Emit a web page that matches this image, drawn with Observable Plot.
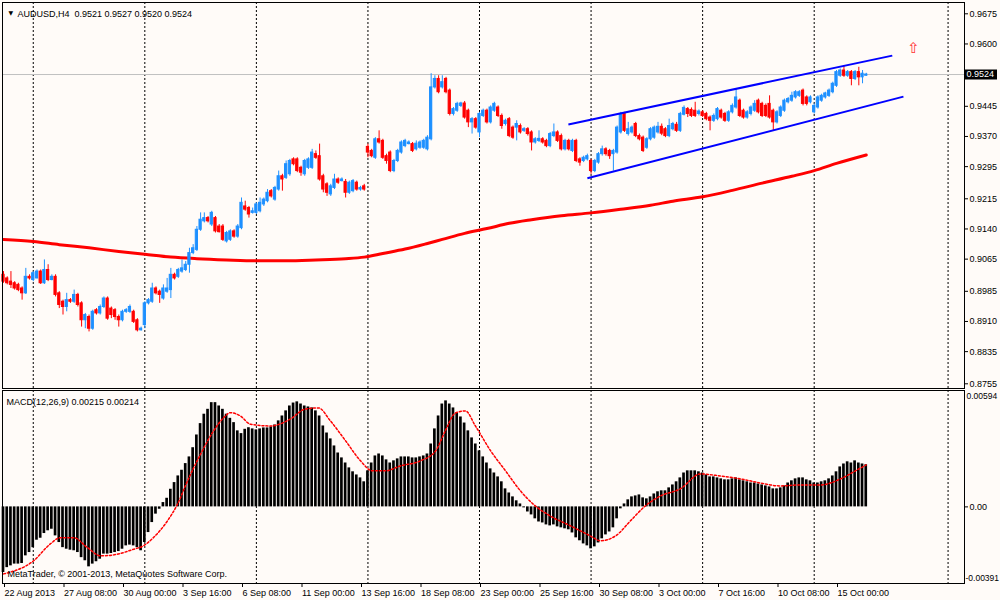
<!DOCTYPE html>
<html><head><meta charset="utf-8">
<script src="https://cdn.jsdelivr.net/npm/d3@7"></script>
<script src="https://cdn.jsdelivr.net/npm/@observablehq/plot@0.6"></script>
<style>
html,body{margin:0;padding:0;background:#FFFBF8;}
#chart{position:relative;width:1000px;height:600px;overflow:hidden;background:#FFFBF8;}
#chart svg{position:absolute;left:0;}
</style></head><body><div id="chart"></div>
<script>
// ---- AUDUSD H4 candles (bar index 0..232) ----
const open = [
0.9026,0.9017,0.9009,0.9005,0.9001,0.8992,0.8980,0.9021,0.9013,0.9017,
0.9034,0.9005,0.9038,0.9013,0.9021,0.8980,0.8959,0.8946,0.8963,0.8959,
0.8976,0.8955,0.8913,0.8921,0.8892,0.8938,0.8930,0.8946,0.8967,0.8942,
0.8938,0.8921,0.8913,0.8934,0.8934,0.8934,0.8913,0.8888,0.8901,0.8955,
0.8959,0.8992,0.8984,0.8967,0.8984,0.8988,0.9026,0.9021,0.9034,0.9038,
0.9051,0.9080,0.9088,0.9138,0.9159,0.9167,0.9151,0.9167,0.9146,0.9146,
0.9109,0.9113,0.9134,0.9121,0.9142,0.9196,0.9192,0.9180,0.9180,0.9184,
0.9201,0.9209,0.9234,0.9213,0.9238,0.9271,0.9267,0.9276,0.9313,0.9313,
0.9292,0.9276,0.9292,0.9292,0.9326,0.9321,0.9271,0.9251,0.9226,0.9242,
0.9263,0.9259,0.9257,0.9230,0.9234,0.9255,0.9238,0.9246,0.9344,0.9334,
0.9317,0.9363,0.9359,0.9321,0.9330,0.9284,0.9309,0.9330,0.9346,0.9351,
0.9351,0.9338,0.9342,0.9342,0.9338,0.9363,0.9492,0.9513,0.9492,0.9513,
0.9484,0.9426,0.9434,0.9446,0.9452,0.9434,0.9405,0.9413,0.9380,0.9421,
0.9434,0.9405,0.9434,0.9442,0.9421,0.9401,0.9413,0.9392,0.9392,0.9396,
0.9384,0.9388,0.9380,0.9355,0.9359,0.9363,0.9359,0.9346,0.9371,0.9380,
0.9371,0.9338,0.9359,0.9334,0.9359,0.9313,0.9309,0.9313,0.9309,0.9284,
0.9305,0.9326,0.9338,0.9334,0.9326,0.9330,0.9380,0.9426,0.9376,0.9380,
0.9401,0.9371,0.9367,0.9342,0.9363,0.9367,0.9380,0.9394,0.9388,0.9371,
0.9388,0.9399,0.9384,0.9424,0.9438,0.9436,0.9434,0.9426,0.9430,0.9426,
0.9417,0.9409,0.9413,0.9434,0.9426,0.9409,0.9430,0.9442,0.9459,0.9434,
0.9417,0.9426,0.9434,0.9459,0.9451,0.9446,0.9451,0.9434,0.9405,0.9421,
0.9434,0.9455,0.9459,0.9467,0.9471,0.9484,0.9467,0.9455,0.9430,0.9442,
0.9459,0.9467,0.9471,0.9480,0.9496,0.9521,0.9534,0.9521,0.9530,0.9513,
0.9530,0.9517,0.9521];
const high = [
0.9034,0.9021,0.9034,0.9009,0.9005,0.8996,0.9042,0.9026,0.9034,0.9038,
0.9038,0.9063,0.9051,0.9026,0.9026,0.8984,0.8963,0.8980,0.8967,0.8988,
0.8980,0.8959,0.8930,0.8926,0.8938,0.8942,0.8951,0.8971,0.8971,0.8946,
0.8942,0.8926,0.8938,0.8942,0.8951,0.8938,0.8917,0.8896,0.8959,0.8967,
0.9005,0.8996,0.8988,0.9001,0.9017,0.9042,0.9030,0.9042,0.9063,0.9059,
0.9092,0.9101,0.9146,0.9180,0.9180,0.9171,0.9184,0.9171,0.9151,0.9151,
0.9134,0.9138,0.9138,0.9151,0.9217,0.9209,0.9196,0.9192,0.9205,0.9217,
0.9217,0.9238,0.9238,0.9246,0.9284,0.9276,0.9309,0.9313,0.9317,0.9317,
0.9296,0.9313,0.9317,0.9338,0.9334,0.9351,0.9276,0.9255,0.9251,0.9276,
0.9267,0.9267,0.9263,0.9259,0.9263,0.9259,0.9246,0.9251,0.9351,0.9338,
0.9367,0.9384,0.9363,0.9326,0.9334,0.9313,0.9338,0.9359,0.9363,0.9359,
0.9355,0.9359,0.9359,0.9363,0.9372,0.9526,0.9521,0.9521,0.9521,0.9517,
0.9488,0.9442,0.9455,0.9455,0.9457,0.9438,0.9417,0.9417,0.9430,0.9438,
0.9438,0.9446,0.9455,0.9446,0.9426,0.9413,0.9417,0.9396,0.9409,0.9401,
0.9392,0.9392,0.9384,0.9367,0.9384,0.9367,0.9363,0.9380,0.9401,0.9384,
0.9376,0.9363,0.9363,0.9363,0.9363,0.9317,0.9321,0.9326,0.9313,0.9313,
0.9330,0.9346,0.9342,0.9338,0.9338,0.9396,0.9430,0.9430,0.9405,0.9396,
0.9405,0.9376,0.9371,0.9367,0.9392,0.9396,0.9405,0.9401,0.9392,0.9413,
0.9405,0.9405,0.9430,0.9446,0.9442,0.9441,0.9455,0.9436,0.9434,0.9430,
0.9421,0.9426,0.9442,0.9438,0.9430,0.9434,0.9451,0.9488,0.9463,0.9438,
0.9434,0.9446,0.9459,0.9463,0.9455,0.9451,0.9471,0.9438,0.9434,0.9446,
0.9463,0.9467,0.9480,0.9484,0.9484,0.9488,0.9471,0.9471,0.9451,0.9471,
0.9475,0.9480,0.9488,0.9505,0.9534,0.9538,0.9546,0.9534,0.9534,0.9534,
0.9542,0.9534,0.9527];
const low = [
0.9005,0.9001,0.8992,0.8988,0.8984,0.8963,0.8977,0.9013,0.9009,0.9016,
0.9002,0.9002,0.9009,0.9011,0.8971,0.8942,0.8926,0.8934,0.8955,0.8955,
0.8946,0.8896,0.8892,0.8884,0.8888,0.8926,0.8926,0.8942,0.8913,0.8917,
0.8913,0.8896,0.8909,0.8930,0.8930,0.8905,0.8884,0.8886,0.8892,0.8951,
0.8955,0.8976,0.8955,0.8963,0.8980,0.8967,0.9013,0.9017,0.9030,0.9034,
0.9030,0.9076,0.9084,0.9134,0.9155,0.9155,0.9146,0.9130,0.9130,0.9109,
0.9105,0.9109,0.9117,0.9117,0.9138,0.9184,0.9167,0.9177,0.9176,0.9180,
0.9196,0.9205,0.9217,0.9209,0.9234,0.9234,0.9263,0.9271,0.9297,0.9280,
0.9271,0.9271,0.9288,0.9288,0.9313,0.9259,0.9230,0.9221,0.9221,0.9238,
0.9251,0.9257,0.9217,0.9226,0.9230,0.9234,0.9234,0.9234,0.9317,0.9317,
0.9313,0.9351,0.9313,0.9301,0.9280,0.9280,0.9305,0.9326,0.9342,0.9349,
0.9330,0.9334,0.9338,0.9338,0.9334,0.9359,0.9488,0.9476,0.9488,0.9476,
0.9421,0.9421,0.9430,0.9442,0.9413,0.9392,0.9376,0.9388,0.9367,0.9417,
0.9401,0.9401,0.9430,0.9417,0.9388,0.9396,0.9367,0.9363,0.9359,0.9376,
0.9380,0.9371,0.9334,0.9351,0.9355,0.9351,0.9342,0.9342,0.9367,0.9355,
0.9334,0.9334,0.9334,0.9330,0.9305,0.9296,0.9305,0.9309,0.9276,0.9280,
0.9301,0.9321,0.9321,0.9313,0.9284,0.9326,0.9376,0.9380,0.9371,0.9376,
0.9367,0.9359,0.9330,0.9338,0.9359,0.9363,0.9376,0.9372,0.9367,0.9367,
0.9384,0.9380,0.9380,0.9421,0.9417,0.9417,0.9417,0.9421,0.9417,0.9409,
0.9384,0.9405,0.9409,0.9413,0.9405,0.9405,0.9426,0.9438,0.9417,0.9413,
0.9413,0.9421,0.9430,0.9426,0.9417,0.9417,0.9413,0.9384,0.9401,0.9417,
0.9430,0.9451,0.9455,0.9463,0.9467,0.9446,0.9446,0.9451,0.9426,0.9438,
0.9455,0.9463,0.9467,0.9476,0.9492,0.9517,0.9517,0.9517,0.9496,0.9509,
0.9496,0.9501,0.9520];
const close = [
0.9009,0.9005,0.9001,0.8992,0.8988,0.8980,0.9021,0.9017,0.9030,0.9034,
0.9005,0.9038,0.9013,0.9021,0.8976,0.8951,0.8946,0.8963,0.8959,0.8976,
0.8951,0.8913,0.8926,0.8892,0.8934,0.8930,0.8946,0.8967,0.8917,0.8926,
0.8921,0.8913,0.8934,0.8938,0.8946,0.8909,0.8888,0.8892,0.8955,0.8963,
0.8992,0.8980,0.8976,0.8992,0.8992,0.9026,0.9017,0.9038,0.9042,0.9051,
0.9080,0.9092,0.9138,0.9163,0.9167,0.9159,0.9180,0.9134,0.9132,0.9113,
0.9130,0.9134,0.9121,0.9146,0.9205,0.9188,0.9176,0.9184,0.9201,0.9205,
0.9213,0.9230,0.9221,0.9242,0.9271,0.9263,0.9301,0.9309,0.9301,0.9284,
0.9280,0.9309,0.9313,0.9330,0.9317,0.9263,0.9238,0.9230,0.9246,0.9263,
0.9255,0.9263,0.9230,0.9255,0.9259,0.9238,0.9242,0.9238,0.9330,0.9321,
0.9363,0.9355,0.9317,0.9309,0.9284,0.9309,0.9334,0.9355,0.9359,0.9355,
0.9334,0.9352,0.9355,0.9359,0.9367,0.9492,0.9513,0.9480,0.9505,0.9480,
0.9426,0.9438,0.9451,0.9452,0.9417,0.9405,0.9413,0.9392,0.9426,0.9434,
0.9405,0.9442,0.9451,0.9421,0.9396,0.9409,0.9371,0.9367,0.9401,0.9380,
0.9388,0.9376,0.9355,0.9363,0.9364,0.9355,0.9346,0.9376,0.9380,0.9359,
0.9338,0.9359,0.9338,0.9359,0.9309,0.9305,0.9317,0.9321,0.9284,0.9309,
0.9326,0.9338,0.9326,0.9321,0.9334,0.9392,0.9426,0.9384,0.9388,0.9392,
0.9371,0.9363,0.9334,0.9363,0.9388,0.9392,0.9394,0.9377,0.9371,0.9396,
0.9401,0.9384,0.9426,0.9441,0.9426,0.9421,0.9421,0.9432,0.9421,0.9413,
0.9409,0.9421,0.9438,0.9417,0.9409,0.9430,0.9446,0.9467,0.9421,0.9417,
0.9430,0.9442,0.9451,0.9430,0.9421,0.9421,0.9417,0.9405,0.9430,0.9442,
0.9459,0.9463,0.9471,0.9480,0.9480,0.9451,0.9451,0.9467,0.9446,0.9467,
0.9471,0.9477,0.9484,0.9501,0.9530,0.9534,0.9521,0.9530,0.9513,0.9530,
0.9517,0.9526,0.9524];

// ---- moving average (red thick line), read at selected bars ----
const maBars = [0,8,15,23,31,38,45,52,60,68,76,84,92,97,102,108,114,118,124,130,136,142,150,158,166,174,180,188,196,204,212,218,224,232];
const maValues = [0.9114,0.9109,0.9101,0.9093,0.9084,0.9077,0.9070,0.9066,0.9063,0.9061,0.9061,0.9063,0.9066,0.9070,0.9079,0.9090,0.9104,0.9114,0.9129,0.9141,0.9154,0.9163,0.9173,0.9180,0.9189,0.9199,0.9209,0.9220,0.9236,0.9254,0.9271,0.9285,0.9303,0.9324];

// ---- trend channel lines ----
const channelStartBar = [151.9, 157.0];
const channelStartPrice = [0.9400, 0.9266];
const channelEndBar = [239.0, 242.0];
const channelEndPrice = [0.9571, 0.9469];

// ---- arrow object ----
const arrowBar = [244.7];
const arrowPrice = [0.9590];

// ---- MACD(12,26,9) main histogram ----
const macd = [
-0.00335,-0.00310,-0.00301,-0.00292,-0.00292,-0.00289,-0.00250,-0.00233,-0.00208,-0.00170,
-0.00160,-0.00136,-0.00122,-0.00114,-0.00148,-0.00182,-0.00208,-0.00216,-0.00221,-0.00224,
-0.00233,-0.00259,-0.00275,-0.00306,-0.00292,-0.00280,-0.00267,-0.00241,-0.00241,-0.00238,
-0.00233,-0.00228,-0.00216,-0.00199,-0.00195,-0.00199,-0.00208,-0.00224,-0.00182,-0.00131,
-0.00080,-0.00037,-0.00012,0.00022,0.00044,0.00090,0.00124,0.00158,0.00187,0.00221,
0.00255,0.00302,0.00367,0.00425,0.00473,0.00498,0.00532,0.00532,0.00515,0.00498,
0.00473,0.00452,0.00430,0.00388,0.00374,0.00396,0.00404,0.00398,0.00393,0.00398,
0.00403,0.00403,0.00408,0.00418,0.00439,0.00464,0.00490,0.00515,0.00530,0.00536,
0.00525,0.00515,0.00510,0.00505,0.00490,0.00464,0.00413,0.00377,0.00347,0.00311,
0.00275,0.00250,0.00224,0.00199,0.00179,0.00163,0.00148,0.00128,0.00184,0.00224,
0.00260,0.00270,0.00260,0.00240,0.00224,0.00235,0.00245,0.00255,0.00255,0.00255,
0.00250,0.00250,0.00255,0.00260,0.00270,0.00321,0.00398,0.00464,0.00525,0.00541,
0.00525,0.00505,0.00479,0.00459,0.00428,0.00388,0.00352,0.00321,0.00286,0.00255,
0.00224,0.00194,0.00173,0.00153,0.00128,0.00092,0.00071,0.00051,0.00031,0.00015,
-0.00005,-0.00026,-0.00041,-0.00061,-0.00077,-0.00082,-0.00092,-0.00097,-0.00092,-0.00102,
-0.00107,-0.00112,-0.00117,-0.00133,-0.00158,-0.00173,-0.00189,-0.00199,-0.00214,-0.00204,
-0.00184,-0.00163,-0.00143,-0.00128,-0.00107,-0.00061,-0.00010,0.00015,0.00036,0.00051,
0.00056,0.00061,0.00046,0.00041,0.00051,0.00066,0.00077,0.00082,0.00082,0.00097,
0.00112,0.00128,0.00148,0.00173,0.00184,0.00184,0.00184,0.00179,0.00173,0.00163,
0.00153,0.00153,0.00148,0.00143,0.00138,0.00138,0.00143,0.00148,0.00138,0.00133,
0.00128,0.00122,0.00122,0.00117,0.00112,0.00107,0.00102,0.00092,0.00092,0.00097,
0.00107,0.00122,0.00133,0.00143,0.00148,0.00148,0.00138,0.00133,0.00122,0.00122,
0.00128,0.00133,0.00143,0.00158,0.00179,0.00204,0.00219,0.00230,0.00224,0.00235,
0.00224,0.00219,0.00215];

// ---- MACD signal line (dotted red), read at selected bars ----
const sigBars = [0,8.1,12.6,15.3,18.8,22.6,26.1,30.7,35,37.6,40.3,44.1,46.8,49.5,53,56.5,59.2,61,63.7,66.4,71.8,77.2,81.2,84.7,87.9,92,96,99.2,102.7,106.7,112.1,116.2,118.8,121.5,124.2,126.9,131,135,139,143,147,152.5,157.8,160.5,164.6,168.6,172.6,176.7,182,187.4,192.8,198.2,203.5,208.9,214.3,219.7,225.1,229.1,232];
const sigValues = [-0.00342,-0.00275,-0.00189,-0.00157,-0.00157,-0.00208,-0.00250,-0.00241,-0.00216,-0.00199,-0.00157,-0.00071,0.00014,0.00133,0.00269,0.00388,0.00455,0.00481,0.00464,0.00422,0.00413,0.00449,0.00500,0.00505,0.00439,0.00337,0.00235,0.00184,0.00184,0.00209,0.00235,0.00286,0.00388,0.00479,0.00490,0.00413,0.00286,0.00184,0.00082,0.00005,-0.00046,-0.00097,-0.00148,-0.00173,-0.00148,-0.00071,0.00005,0.00056,0.00092,0.00168,0.00158,0.00143,0.00122,0.00107,0.00112,0.00112,0.00143,0.00184,0.00214];

// ---- axes ----
const priceTicks = [0.9675,0.9600,0.9445,0.9370,0.9295,0.9215,0.9140,0.9065,0.8985,0.8910,0.8835,0.8755];
const timeTickBars = [0,16,32,48,64,80,96,112,128,144,160,176,192,208,224];
const timeLabels = ["22 Aug 2013","27 Aug 08:00","30 Aug 00:00","3 Sep 16:00","6 Sep 08:00","11 Sep 00:00","13 Sep 16:00","18 Sep 08:00","23 Sep 00:00","25 Sep 16:00","30 Sep 08:00","3 Oct 00:00","7 Oct 16:00","10 Oct 08:00","15 Oct 00:00"];
const gridBars = [8,38,68,98,128,158,188,218,254];
const lastClose = 0.9524;
const macdMax = 0.00594, macdMin = -0.00391;
const titleText = "AUDUSD,H4\u00a0\u00a00.9521 0.9527 0.9520 0.9524";
const macdTitle = "MACD(12,26,9) 0.00215 0.00214";
const copyright = "MetaTrader, \u00a9 2001-2013, MetaQuotes Software Corp.";

// ---- build ----
const BG = "#FFFBF8";
const FONT = "'Liberation Sans', Arial, sans-serif";
const xDomain = [0, 224], xRange = [3, 836];
const xs = d3.scaleLinear(xDomain, xRange);
const candles = open.map((o, i) => ({i, o, h: high[i], l: low[i], c: close[i]}));
const bulls = candles.filter(d => d.c >= d.o);
const bears = candles.filter(d => d.c < d.o);
const ma = maBars.map((b, k) => ({i: b, v: maValues[k]}));
const channels = channelStartBar.map((b, k) => ({b1: b, p1: channelStartPrice[k], b2: channelEndBar[k], p2: channelEndPrice[k]}));
const arrows = arrowBar.map((b, k) => ({i: b, v: arrowPrice[k]}));
const macdData = macd.map((v, i) => ({i, v}));
const sig = sigBars.map((b, k) => ({i: b, v: sigValues[k]}));
const BW = 0.3;

const main = Plot.plot({
  width: 1000, height: 389,
  marginLeft: 2, marginRight: 36, marginTop: 2, marginBottom: 1,
  style: {background: BG, fontFamily: FONT, fontSize: "9px", color: "#000", overflow: "visible"},
  x: {type: "linear", domain: xDomain, range: xRange, axis: null, label: null},
  y: {type: "linear", domain: [0.9675, 0.8755], range: [13.3, 383.3], axis: null, label: null},
  marks: [
    Plot.ruleX(gridBars, {stroke: "#000", strokeDasharray: "2,2"}),
    Plot.ruleY([lastClose], {stroke: "#C0C0C0"}),
    Plot.line(ma, {x: "i", y: "v", stroke: "#FF0000", strokeWidth: 3, curve: "monotone-x"}),
    Plot.ruleX(bulls, {x: "i", y1: "l", y2: "h", stroke: "#1E90FF"}),
    Plot.ruleX(bears, {x: "i", y1: "l", y2: "h", stroke: "#FF0000"}),
    Plot.rect(bulls, {x1: d => d.i - BW, x2: d => d.i + BW, y1: "o", y2: "c", fill: "#1E90FF", stroke: "#1E90FF", strokeWidth: 1}),
    Plot.rect(bears, {x1: d => d.i - BW, x2: d => d.i + BW, y1: "o", y2: "c", fill: "#FF0000", stroke: "#FF0000", strokeWidth: 1}),
    Plot.link(channels, {x1: "b1", y1: "p1", x2: "b2", y2: "p2", stroke: "#0000FF", strokeWidth: 2}),
    Plot.text(arrows, {x: "i", y: "v", text: () => "\u21E7", fill: "#FF3030", fontSize: 15, fontFamily: "DejaVu Sans"}),
    Plot.frame({stroke: "#000"}),
    Plot.axisY({anchor: "right", ticks: priceTicks, tickFormat: d3.format(".4f"), tickSize: 3, tickPadding: 2, label: null}),
    Plot.ruleY([lastClose], {x1: xs.invert(964), x2: xs.invert(997), stroke: "#000", strokeWidth: 10}),
    Plot.text([lastClose], {x: xs.invert(966), y: d => d, text: d => d.toFixed(4), fill: "#fff", textAnchor: "start"}),
    Plot.text(["\u25BC"], {frameAnchor: "top-left", dx: 6, dy: 8, fontSize: 6, fontFamily: "DejaVu Sans"}),
    Plot.text([titleText], {frameAnchor: "top-left", dx: 15, dy: 8, textAnchor: "start"})
  ]
});

const macdPlot = Plot.plot({
  width: 1000, height: 211,
  marginLeft: 2, marginRight: 36, marginTop: 1, marginBottom: 17,
  style: {background: BG, fontFamily: FONT, fontSize: "9px", color: "#000", overflow: "visible"},
  x: {type: "linear", domain: xDomain, range: xRange, axis: null, label: null},
  y: {type: "linear", domain: [macdMin, macdMax], range: [194, 1], axis: null, label: null},
  marks: [
    Plot.ruleX(gridBars, {stroke: "#000", strokeDasharray: "2,2"}),
    Plot.rect(macdData, {x1: d => d.i - 0.36, x2: d => d.i + 0.36, y1: 0, y2: "v", fill: "#000"}),
    Plot.line(sig, {x: "i", y: "v", stroke: "#FF0000", strokeDasharray: "2,2", curve: "monotone-x"}),
    Plot.frame({stroke: "#000"}),
    Plot.axisX({anchor: "bottom", ticks: timeTickBars, tickFormat: d => timeLabels[timeTickBars.indexOf(d)], tickSize: 4, tickPadding: 2, textAnchor: "start", dx: 1, label: null}),
    Plot.axisY({anchor: "right", ticks: [0], tickFormat: () => "0.00", tickSize: 3, tickPadding: 2, label: null}),
    Plot.text([macdMax], {x: xs.invert(966), y: d => d, dy: 2, textAnchor: "start", lineAnchor: "top", fontSize: 8.5, text: d => d.toFixed(5)}),
    Plot.text([macdMin], {x: xs.invert(965), y: d => d, dy: -3, textAnchor: "start", lineAnchor: "bottom", fontSize: 8.5, text: d => d.toFixed(5)}),
    Plot.text([macdTitle], {frameAnchor: "top-left", dx: 4, dy: 8, textAnchor: "start"}),
    Plot.text([copyright], {frameAnchor: "bottom-left", dx: 5, dy: -7, textAnchor: "start"})
  ]
});

const root = document.getElementById("chart");
main.style.top = "0px";
macdPlot.style.top = "389px";
root.appendChild(main);
root.appendChild(macdPlot);
</script></body></html>
